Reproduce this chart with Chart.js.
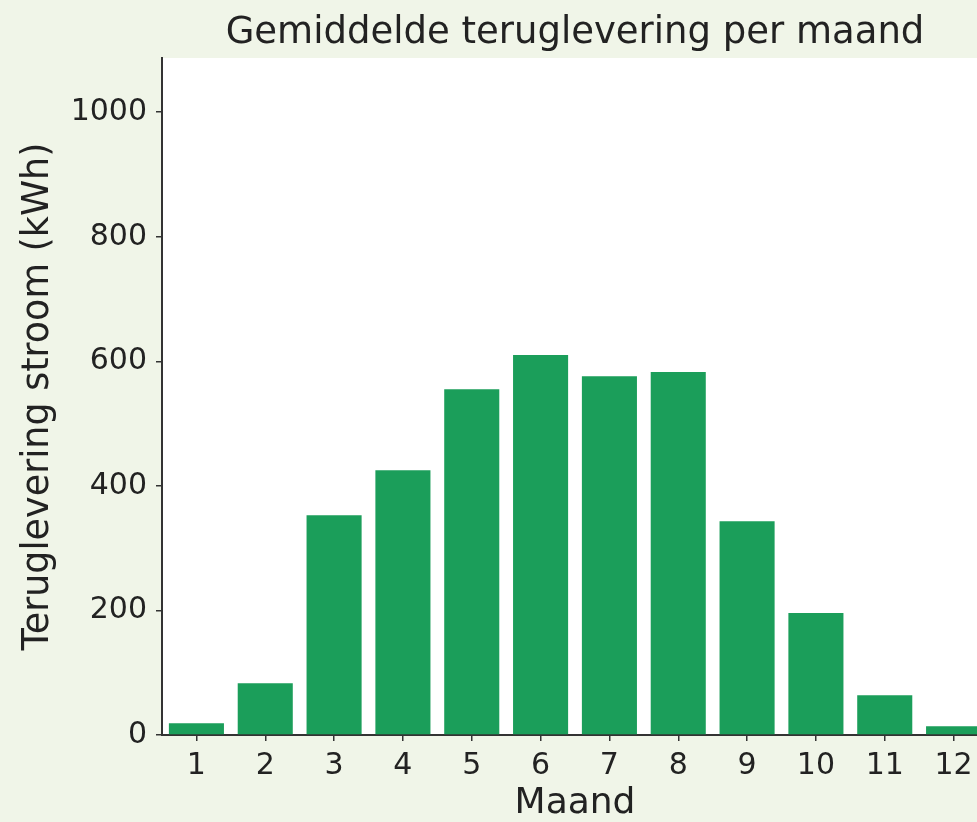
<!DOCTYPE html>
<html>
<head>
<meta charset="utf-8">
<script src="https://cdn.jsdelivr.net/npm/chart.js@4"></script>
<style>
  html, body { margin: 0; padding: 0; background: #f0f5e8; overflow: hidden; }
  canvas { display: block; }
</style>
</head>
<body>
<canvas id="maandChart" width="1000" height="822"></canvas>
<script>
const maanden = ['1', '2', '3', '4', '5', '6', '7', '8', '9', '10', '11', '12'];
const teruglevering = [19, 83, 353, 425, 555, 610, 576, 583, 343, 196, 64, 14];
const yMax = 1087;

// white plot background like the matplotlib axes
const plotBg = {
    id: 'plotBg',
    beforeDraw(chart) {
        const { ctx, chartArea: a } = chart;
        ctx.save();
        ctx.fillStyle = '#ffffff';
        ctx.fillRect(a.left, a.top, a.right - a.left, a.bottom - a.top);
        ctx.restore();
    }
};

const fontFam = '"DejaVu Sans", sans-serif';
const ctx = document.getElementById('maandChart').getContext('2d');

new Chart(ctx, {
    type: 'bar',
    data: {
        labels: maanden,
        datasets: [{
            label: 'Teruglevering',
            data: teruglevering,
            backgroundColor: '#1b9e5a',
            borderWidth: 0,
            categoryPercentage: 0.8,
            barPercentage: 1.0
        }]
    },
    options: {
        responsive: false,
        animation: false,
        layout: { padding: { top: 0, right: 12, bottom: 0, left: 0 } },
        plugins: {
            legend: { display: false },
            tooltip: { enabled: false },
            title: {
                display: true,
                fullSize: false,
                text: 'Gemiddelde teruglevering per maand',
                color: '#222222',
                font: { family: fontFam, size: 37, weight: 'normal', lineHeight: 1 },
                padding: { top: 15, bottom: 6 }
            }
        },
        scales: {
            x: {
                grid: { offset: false, drawOnChartArea: false, drawTicks: true, tickLength: 6, color: '#333333', lineWidth: 1.5 },
                border: { color: '#333333', width: 2 },
                ticks: { color: '#222222', padding: 10, font: { family: fontFam, size: 30, lineHeight: 1 } },
                title: {
                    display: true,
                    text: 'Maand',
                    color: '#222222',
                    font: { family: fontFam, size: 36, lineHeight: 1 },
                    padding: { top: -2, bottom: 0 }
                },
                afterFit(scale) { scale.height = 87; }
            },
            y: {
                min: 0,
                max: yMax,
                grid: { drawOnChartArea: false, drawTicks: true, tickLength: 6, color: '#333333', lineWidth: 1.5 },
                border: { color: '#333333', width: 2 },
                ticks: {
                    stepSize: 200,
                    includeBounds: false,
                    color: '#222222',
                    padding: 9,
                    font: { family: fontFam, size: 30, lineHeight: 1 },
                    callback: v => String(v)
                },
                title: {
                    display: true,
                    text: 'Teruglevering stroom (kWh)',
                    color: '#222222',
                    font: { family: fontFam, size: 36.5, lineHeight: 1 },
                    padding: { top: 20, bottom: 0 }
                },
                afterFit(scale) { scale.width = 162; }
            }
        }
    },
    plugins: [plotBg]
});
</script>
</body>
</html>
